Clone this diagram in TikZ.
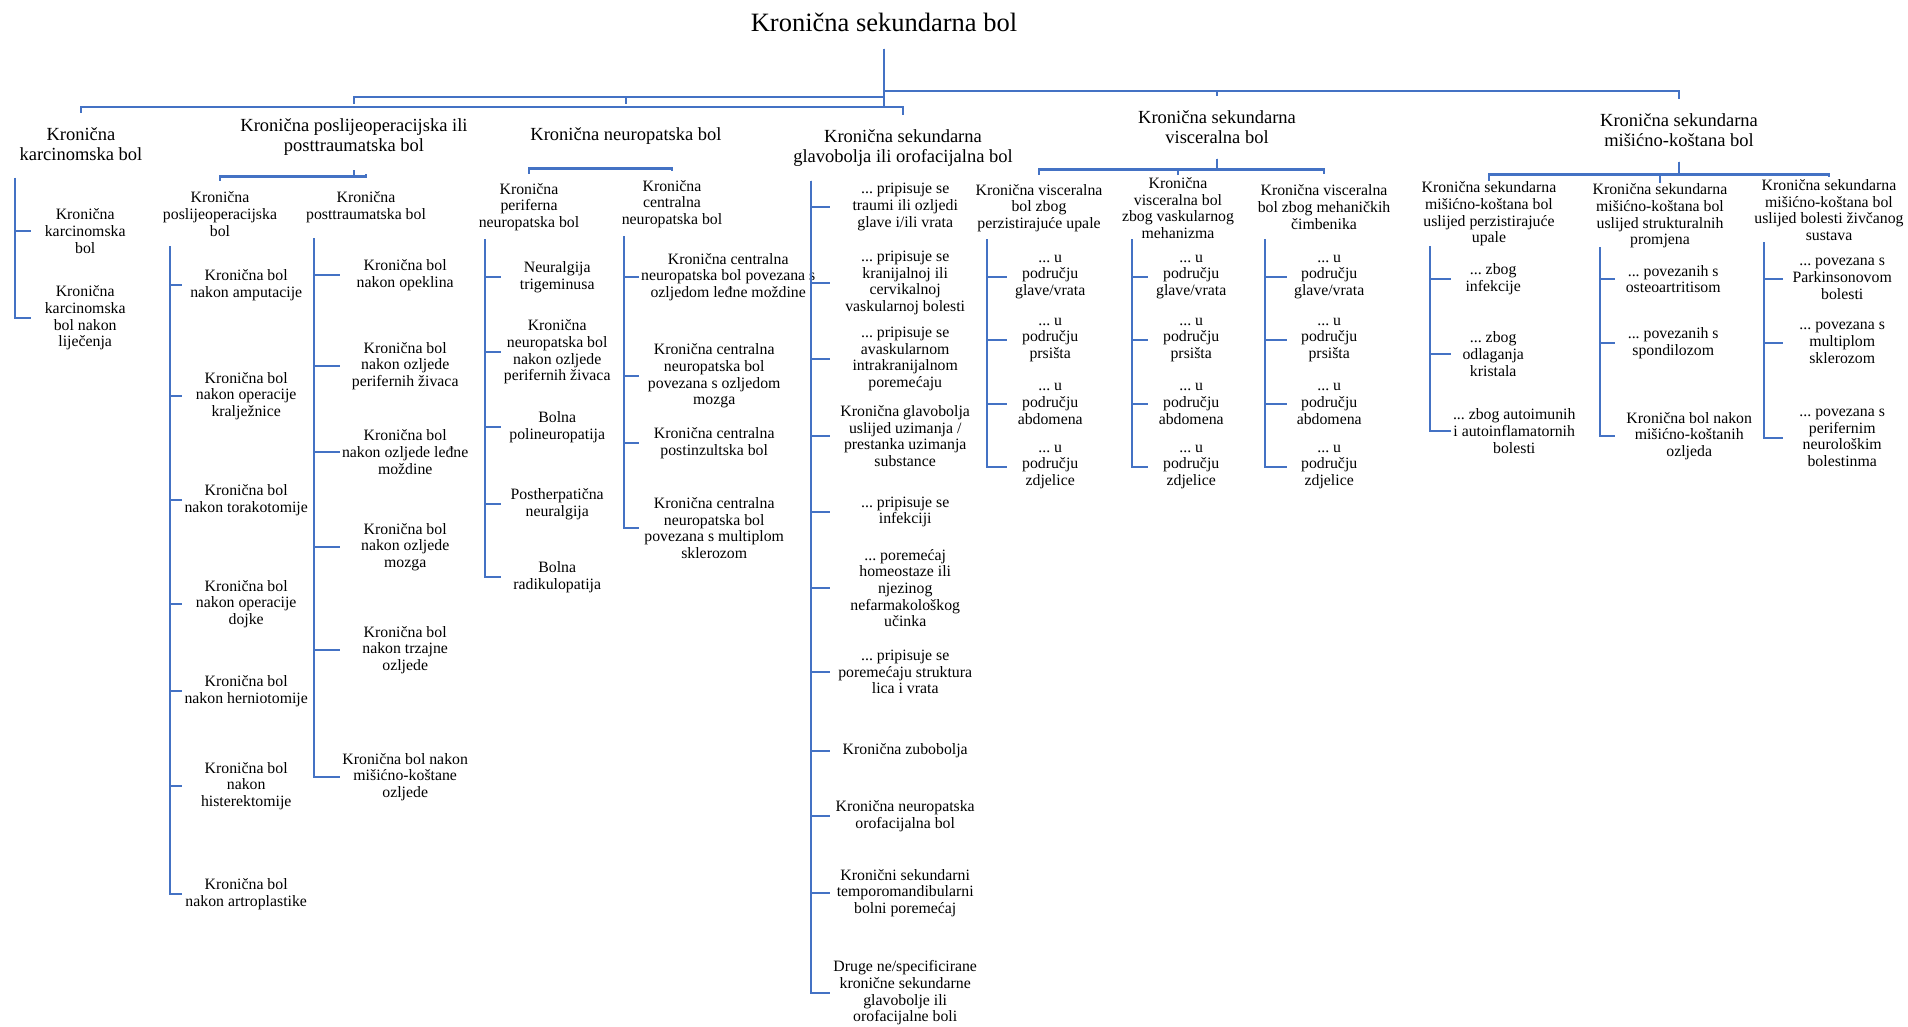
\documentclass[tikz,border=0pt]{standalone}
\usepackage{fontspec}
\setmainfont{Liberation Serif}
\usepackage{tikz}
\frenchspacing
\definecolor{linkblue}{HTML}{4472C4}
\tikzset{
		rootbox/.style = {font=\fontsize{26.5}{30}\selectfont, inner sep=0pt, outer ysep=17pt, anchor=south},
		headbox/.style = {align=center, font=\fontsize{18.5}{19.5}\selectfont, inner sep=0pt, outer ysep=15pt, anchor=north},
		subbox/.style = {align=center, font=\fontsize{15.8}{16.7}\selectfont, inner sep=0pt, minimum height=66pt},
		leafbox/.style = {align=center, font=\fontsize{15.8}{16.7}\selectfont, inner sep=0pt, anchor=west, minimum width=#1pt},
		link/.style = {draw=linkblue, line width=2.9pt},
		fork/.style = {to path={-- ++(0,#1) -| (\tikztotarget)}},
		elbow/.style = {to path={|- (\tikztotarget)}}
	}
\begin{document}
\begin{tikzpicture}[x=1pt, y=-1pt]
	\path[use as bounding box] (0,0) rectangle (1908,1027);
	\node[rootbox] (root) at (884,49) {Kronična sekundarna bol};

	\node[headbox]                  (carc) at (81,113)  {Kronična\\karcinomska bol};
	\node[headbox]                  (pto)  at (354,104) {Kronična poslijeoperacijska ili\\posttraumatska bol};
	\node[headbox, outer ysep=24pt] (neur) at (626,104) {Kronična neuropatska bol};
	\node[headbox]                  (gla)  at (903,115) {Kronična sekundarna\\glavobolja ili orofacijalna bol};
	\node[headbox]                  (visc) at (1217,96) {Kronična sekundarna\\visceralna bol};
	\node[headbox]                  (musc) at (1679,99) {Kronična sekundarna\\mišićno-koštana bol};
	\path[link] (root.south) edge[fork=58] (carc.north) edge[fork=58] (gla.north)
		edge[fork=48] (pto.north) edge[fork=48] (neur.north)
		edge[fork=42] (visc.north) edge[fork=42] (musc.north);

	\node[subbox] (posl)  at (220,214)  {Kronična\\poslijeoperacijska\\bol};
	\node[subbox] (postt) at (366,207)  {Kronična\\posttraumatska bol};
	\node[subbox] (perif) at (529,207)  {Kronična\\periferna\\neuropatska bol};
	\node[subbox] (centr) at (672,204)  {Kronična\\centralna\\neuropatska bol};
	\node[subbox] (vis1)  at (1039,208) {Kronična visceralna\\bol zbog\\perzistirajuće upale};
	\node[subbox] (vis2)  at (1178,208) {Kronična\\visceralna bol\\zbog vaskularnog\\mehanizma};
	\node[subbox] (vis3)  at (1324,207) {Kronična visceralna\\bol zbog mehaničkih\\čimbenika};
	\node[subbox] (msk1)  at (1489,214) {Kronična sekundarna\\mišićno-koštana bol\\uslijed perzistirajuće\\upale};
	\node[subbox] (msk2)  at (1660,216) {Kronična sekundarna\\mišićno-koštana bol\\uslijed strukturalnih\\promjena};
	\node[subbox] (msk3)  at (1829,210) {Kronična sekundarna\\mišićno-koštana bol\\uslijed bolesti živčanog\\sustava};
	\path[link] (pto.south) edge[fork=6] (posl.north) edge[fork=6] (postt.north);
	\path[link] (neur.south) edge[fork=0] (perif.north) edge[fork=0] (centr.north);
	\path[link] (visc.south) edge[fork=11] (vis1.north) edge[fork=11] (vis2.north) edge[fork=11] (vis3.north);
	\path[link] (musc.south) edge[fork=13] (msk1.north) edge[fork=13] (msk2.north) edge[fork=13] (msk3.north);

	\coordinate (cs)  at (15,178);
	\node[leafbox=108] (c1) at (31,231) {Kronična\\karcinomska\\bol};
	\node[leafbox=108] (c2) at (31,318) {Kronična\\karcinomska\\bol nakon\\liječenja};
	\path[link] (cs) edge[elbow] (c1.west) edge[elbow] (c2.west);

	\coordinate (ps)  at (170,246);
	\node[leafbox=128] (p1) at (182,285) {Kronična bol\\nakon amputacije};
	\node[leafbox=128] (p2) at (182,396) {Kronična bol\\nakon operacije\\kralježnice};
	\node[leafbox=128] (p3) at (182,500) {Kronična bol\\nakon torakotomije};
	\node[leafbox=128] (p4) at (182,604) {Kronična bol\\nakon operacije\\dojke};
	\node[leafbox=128] (p5) at (182,691) {Kronična bol\\nakon herniotomije};
	\node[leafbox=128] (p6) at (182,786) {Kronična bol\\nakon\\histerektomije};
	\node[leafbox=128] (p7) at (182,894) {Kronična bol\\nakon artroplastike};
	\path[link] (ps) edge[elbow] (p1.west) edge[elbow] (p2.west) edge[elbow] (p3.west)
		edge[elbow] (p4.west) edge[elbow] (p5.west) edge[elbow] (p6.west) edge[elbow] (p7.west);

	\coordinate (ts)  at (314,238);
	\node[leafbox=130] (t1) at (340,275) {Kronična bol\\nakon opeklina};
	\node[leafbox=130] (t2) at (340,366) {Kronična bol\\nakon ozljede\\perifernih živaca};
	\node[leafbox=130] (t3) at (340,452) {Kronična bol\\nakon ozljede leđne\\moždine};
	\node[leafbox=130] (t4) at (340,547) {Kronična bol\\nakon ozljede\\mozga};
	\node[leafbox=130] (t5) at (340,650) {Kronična bol\\nakon trzajne\\ozljede};
	\node[leafbox=130] (t6) at (340,777) {Kronična bol nakon\\mišićno-koštane\\ozljede};
	\path[link] (ts) edge[elbow] (t1.west) edge[elbow] (t2.west) edge[elbow] (t3.west)
		edge[elbow] (t4.west) edge[elbow] (t5.west) edge[elbow] (t6.west);

	\coordinate (fs)  at (485,239);
	\node[leafbox=112] (f1) at (501,277) {Neuralgija\\trigeminusa};
	\node[leafbox=112] (f2) at (501,352) {Kronična\\neuropatska bol\\nakon ozljede\\perifernih živaca};
	\node[leafbox=112] (f3) at (501,427) {Bolna\\polineuropatija};
	\node[leafbox=112] (f4) at (501,504) {Postherpatična\\neuralgija};
	\node[leafbox=112] (f5) at (501,577) {Bolna\\radikulopatija};
	\path[link] (fs) edge[elbow] (f1.west) edge[elbow] (f2.west) edge[elbow] (f3.west)
		edge[elbow] (f4.west) edge[elbow] (f5.west);

	\coordinate (ns)  at (624,236);
	\node[leafbox=178] (n1) at (639,277) {Kronična centralna\\neuropatska bol povezana s\\ozljedom leđne moždine};
	\node[leafbox=150] (n2) at (639,376) {Kronična centralna\\neuropatska bol\\povezana s ozljedom\\mozga};
	\node[leafbox=150] (n3) at (639,443) {Kronična centralna\\postinzultska bol};
	\node[leafbox=150] (n4) at (639,528) {Kronična centralna\\neuropatska bol\\povezana s multiplom\\sklerozom};
	\path[link] (ns) edge[elbow] (n1.west) edge[elbow] (n2.west) edge[elbow] (n3.west) edge[elbow] (n4.west);

	\coordinate (gs)  at (811,181);
	\node[leafbox=150] (g1)  at (830,207) {... pripisuje se\\traumi ili ozljedi\\glave i/ili vrata};
	\node[leafbox=150] (g2)  at (830,283) {... pripisuje se\\kranijalnoj ili\\cervikalnoj\\vaskularnoj bolesti};
	\node[leafbox=150] (g3)  at (830,359) {... pripisuje se\\avaskularnom\\intrakranijalnom\\poremećaju};
	\node[leafbox=150] (g4)  at (830,436) {Kronična glavobolja\\uslijed uzimanja /\\prestanka uzimanja\\substance};
	\node[leafbox=150] (g5)  at (830,512) {... pripisuje se\\infekciji};
	\node[leafbox=150] (g6)  at (830,588) {... poremećaj\\homeostaze ili\\njezinog\\nefarmakološkog\\učinka};
	\node[leafbox=150] (g7)  at (830,672) {... pripisuje se\\poremećaju struktura\\lica i vrata};
	\node[leafbox=150] (g8)  at (830,751) {Kronična zubobolja};
	\node[leafbox=150] (g9)  at (830,816) {Kronična neuropatska\\orofacijalna bol};
	\node[leafbox=150] (g10) at (830,893) {Kronični sekundarni\\temporomandibularni\\bolni poremećaj};
	\node[leafbox=150] (g11) at (830,993) {Druge ne/specificirane\\kronične sekundarne\\glavobolje ili\\orofacijalne boli};
	\path[link] (gs) edge[elbow] (g1.west) edge[elbow] (g2.west) edge[elbow] (g3.west) edge[elbow] (g4.west)
		edge[elbow] (g5.west) edge[elbow] (g6.west) edge[elbow] (g7.west) edge[elbow] (g8.west)
		edge[elbow] (g9.west) edge[elbow] (g10.west) edge[elbow] (g11.west);

	\coordinate (vs1) at (987,239);
	\node[leafbox=86] (va1) at (1007,277) {... u\\području\\glave/vrata};
	\node[leafbox=86] (va2) at (1007,340) {... u\\području\\prsišta};
	\node[leafbox=86] (va3) at (1007,404) {... u\\području\\abdomena};
	\node[leafbox=86] (va4) at (1007,467) {... u\\području\\zdjelice};
	\path[link] (vs1) edge[elbow] (va1.west) edge[elbow] (va2.west) edge[elbow] (va3.west) edge[elbow] (va4.west);

	\coordinate (vs2) at (1132,239);
	\node[leafbox=86] (vb1) at (1148,277) {... u\\području\\glave/vrata};
	\node[leafbox=86] (vb2) at (1148,340) {... u\\području\\prsišta};
	\node[leafbox=86] (vb3) at (1148,404) {... u\\području\\abdomena};
	\node[leafbox=86] (vb4) at (1148,467) {... u\\području\\zdjelice};
	\path[link] (vs2) edge[elbow] (vb1.west) edge[elbow] (vb2.west) edge[elbow] (vb3.west) edge[elbow] (vb4.west);

	\coordinate (vs3) at (1265,239);
	\node[leafbox=84] (vc1) at (1287,277) {... u\\području\\glave/vrata};
	\node[leafbox=84] (vc2) at (1287,340) {... u\\području\\prsišta};
	\node[leafbox=84] (vc3) at (1287,404) {... u\\području\\abdomena};
	\node[leafbox=84] (vc4) at (1287,467) {... u\\području\\zdjelice};
	\path[link] (vs3) edge[elbow] (vc1.west) edge[elbow] (vc2.west) edge[elbow] (vc3.west) edge[elbow] (vc4.west);

	\coordinate (ms1) at (1430,246);
	\node[leafbox=84]  (ma1) at (1451,279) {... zbog\\infekcije};
	\node[leafbox=84]  (ma2) at (1451,354) {... zbog\\odlaganja\\kristala};
	\node[leafbox=126] (ma3) at (1451,431) {... zbog autoimunih\\i autoinflamatornih\\bolesti};
	\path[link] (ms1) edge[elbow] (ma1.west) edge[elbow] (ma2.west) edge[elbow] (ma3.west);

	\coordinate (ms2) at (1600,247);
	\node[leafbox=116] (mb1) at (1615,279) {... povezanih s\\osteoartritisom};
	\node[leafbox=116] (mb2) at (1615,343) {... povezanih s\\spondilozom};
	\node[leafbox=148] (mb3) at (1615,436) {Kronična bol nakon\\mišićno-koštanih\\ozljeda};
	\path[link] (ms2) edge[elbow] (mb1.west) edge[elbow] (mb2.west) edge[elbow] (mb3.west);

	\coordinate (ms3) at (1764,242);
	\node[leafbox=118] (mc1) at (1783,279) {... povezana s\\Parkinsonovom\\bolesti};
	\node[leafbox=118] (mc2) at (1783,343) {... povezana s\\multiplom\\sklerozom};
	\node[leafbox=118] (mc3) at (1783,438) {... povezana s\\perifernim\\neurološkim\\bolestinma};
	\path[link] (ms3) edge[elbow] (mc1.west) edge[elbow] (mc2.west) edge[elbow] (mc3.west);
\end{tikzpicture}
\end{document}
